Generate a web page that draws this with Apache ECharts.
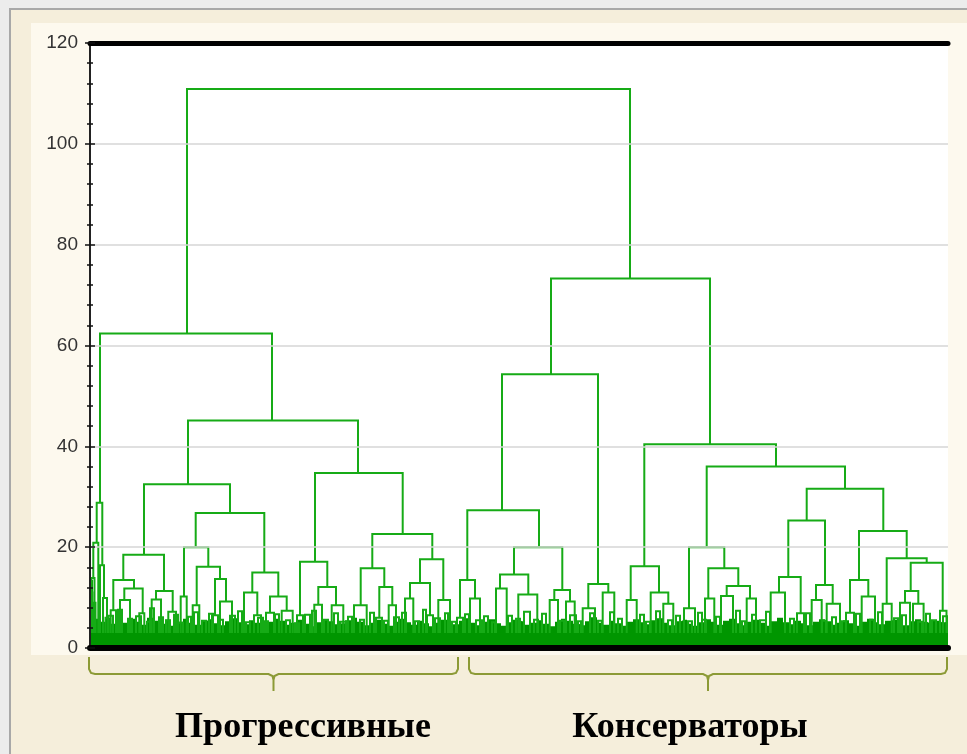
<!DOCTYPE html>
<html>
<head>
<meta charset="utf-8">
<script src="https://cdn.jsdelivr.net/npm/echarts@6/dist/echarts.min.js"></script>
<style>
  html, body { margin:0; padding:0; width:967px; height:754px; overflow:hidden; background:#ececec; }
  #frame { position:absolute; left:9px; top:8px; width:980px; height:760px; background:#f5eedb;
           border-left:2px solid #a8a8a8; border-top:2px solid #a8a8a8; }
  #inner { position:absolute; left:31px; top:23px; width:936px; height:632px; background:#fdf9ee; }
  #chart { position:absolute; left:0; top:0; width:967px; height:754px; }
</style>
</head>
<body>
<div id="frame"></div>
<div id="inner"></div>
<div id="chart"></div>
<script>
// ---- DATA ----
// Y-axis tick labels (linkage distance)
const yTicks = [0, 20, 40, 60, 80, 100, 120];
// Group labels under the dendrogram
const groupNames = ['Прогрессивные', 'Консерваторы'];

// Dendrogram merges: [leftX, rightX, mergeHeight, leftChildHeight, rightChildHeight]
// X = position in leaf order (0..858), heights in distance units. Child height 0 = leaf/fringe.
const mergesTop = [
  [97, 540, 110.9, 62.4, 73.3],
  [10, 182, 62.4, 28.8, 45.1],
  [461, 620, 73.3, 54.3, 40.4]
];
const mergesLeft = [
  [6.7, 12.3, 28.8, 20.9, 16.4],
  [3.3, 8.3, 20.9, 13.9, 0],
  [1.5, 4.5, 13.9, 11, 9],
  [1, 2.5, 11, 0, 0],
  [3.5, 5.5, 9, 0, 0],
  [10, 14, 16.4, 0, 9.9],
  [13, 17, 9.9, 0, 6],
  [15.5, 18.5, 6, 0, 0],
  [98, 268, 45.1, 32.5, 34.7],
  [54, 140, 32.5, 18.5, 26.8],
  [33.3, 74, 18.5, 13.5, 11.3],
  [23.3, 44, 13.5, 7.5, 11.8],
  [20.7, 26, 7.5, 0, 0],
  [34.3, 52.7, 11.8, 9.5, 6.9],
  [30, 40, 9.5, 0, 0],
  [49.3, 54.3, 6.9, 0, 0],
  [66, 82.7, 11.3, 9.6, 7.2],
  [61.7, 71, 9.6, 0, 0],
  [78.3, 86, 7.2, 0, 0],
  [105.7, 174.3, 26.8, 20, 15],
  [94, 118.3, 20, 10.2, 16.1],
  [90.7, 96.7, 10.2, 0, 0],
  [106.7, 130, 16.1, 8.5, 13.7],
  [102.7, 109.3, 8.5, 0, 0],
  [125, 136, 13.7, 6.5, 9.2],
  [122, 128, 6.5, 0, 0],
  [130, 142, 9.2, 0, 0],
  [162.3, 188.3, 15, 11, 10.2],
  [154, 167.3, 11, 0, 6.5],
  [164, 171, 6.5, 0, 0],
  [180, 196.7, 10.2, 7, 7.4],
  [176, 184, 7, 0, 0],
  [191.7, 202.7, 7.4, 0, 0],
  [225, 312.7, 34.7, 17.1, 22.6],
  [210, 237.3, 17.1, 6.5, 12.1],
  [207, 213, 6.5, 0, 0],
  [228.3, 246, 12.1, 8.6, 8.5],
  [224.3, 232, 8.6, 0, 0],
  [241.7, 253.3, 8.5, 0, 0],
  [282.3, 342.3, 22.6, 15.8, 17.6],
  [270.7, 294.3, 15.8, 8.5, 12.1],
  [264, 276.7, 8.5, 0, 0],
  [289.3, 302.3, 12.1, 6, 8.5],
  [286, 292, 6, 0, 0],
  [298.7, 306, 8.5, 0, 0],
  [330, 353.3, 17.6, 12.9, 9.5],
  [320, 340, 12.9, 9.8, 6.5],
  [315, 323.3, 9.8, 0, 0],
  [337, 343, 6.5, 0, 0],
  [348.3, 360, 9.5, 0, 0]
];
const mergesRight = [
  [412, 508, 54.3, 27.3, 12.7],
  [377.3, 449, 27.3, 13.5, 20],
  [370, 385, 13.5, 6, 9.8],
  [367, 373, 6, 0, 0],
  [380, 390, 9.8, 0, 0],
  [424, 472.3, 20, 14.6, 11.5],
  [410, 438.3, 14.6, 11.8, 10.6],
  [406, 416.7, 11.8, 0, 0],
  [428.3, 447.3, 10.6, 0, 0],
  [464.3, 480, 11.5, 9.5, 9.2],
  [459.7, 468, 9.5, 0, 0],
  [476, 484.7, 9.2, 0, 0],
  [498.3, 518.3, 12.7, 7.9, 11],
  [492.7, 505, 7.9, 0, 0],
  [512.7, 524.3, 11, 0, 0],
  [554.3, 686, 40.4, 16.2, 36],
  [540.7, 569, 16.2, 9.5, 11],
  [536.7, 546.7, 9.5, 0, 0],
  [560.7, 578.3, 11, 0, 8.8],
  [573.3, 583.3, 8.8, 0, 0],
  [616.7, 755, 36, 20, 31.6],
  [599, 634.3, 20, 7.9, 15.8],
  [594, 605, 7.9, 0, 0],
  [618.3, 648.3, 15.8, 9.8, 12.3],
  [615, 624.3, 9.8, 0, 0],
  [636.7, 660, 12.3, 10.3, 9.8],
  [631, 643, 10.3, 0, 0],
  [656.7, 666, 9.8, 0, 0],
  [716.7, 793.3, 31.6, 25.3, 23.2],
  [698.3, 735, 25.3, 14.1, 12.5],
  [689, 710.7, 14.1, 11, 6.9],
  [680.7, 695, 11, 0, 0],
  [707, 714, 6.9, 0, 0],
  [726, 742.7, 12.5, 9.5, 8.8],
  [721.7, 731.7, 9.5, 0, 0],
  [736.7, 750, 8.8, 0, 0],
  [769, 816.7, 23.2, 13.5, 17.8],
  [760, 778.3, 13.5, 7, 10.2],
  [756, 764, 7, 0, 0],
  [771.7, 785, 10.2, 0, 0],
  [796.7, 836.7, 17.8, 8.8, 16.9],
  [792.7, 801.7, 8.8, 0, 0],
  [820.7, 852.7, 16.9, 11.3, 7.4],
  [815, 828.3, 11.3, 9, 8.8],
  [810, 820, 9, 0, 0],
  [823, 833.6, 8.8, 0, 0],
  [850, 856.5, 7.4, 0, 0]
];
// Small low-level merges in the dense fringe: [leftX, rightX, height]
const fringeMerges = [
  [18,23,6.4],[28,32,7.6],[38,42,5.8],[46,51,6.3],[57,61,5.2],[60,64,7.9],[69,73,6.1],[76,80,5.5],
  [84,88,6.6],[88,93,5],[98,101,6.2],[104,108,7.1],[112,116,5.4],[119,123,6.8],[128,133,5.6],
  [140,145,6.4],[148,152,7.3],[156,160,5.1],[168,173,6],[174,178,5.3],[185,189,6.7],[196,200,5.5],
  [205,209,4.9],[215,220,6.6],[222,226,7.4],[234,238,5.6],[244,248,6.9],[250,256,5.2],[258,262,6.2],
  [270,274,5.6],[280,284,7],[294,298,5.4],[304,309,6.1],[312,316,7],[325,329,5.3],[333,336,7.6],
  [345,350,5.9],[355,358,6.9],[362,366,5.2],[375,379,6.7],[386,392,5.5],[394,398,6.3],[402,405,5.1],
  [418,422,6.4],[426,430,5.8],[434,440,7.2],[444,448,5.6],[452,456,6.8],[470,474,5.4],[480,486,6.5],
  [488,491,5.3],[500,504,6.9],[508,512,5.4],[520,524,7.1],[528,532,5.8],[550,554,6.6],[556,560,5.2],
  [566,570,7.3],[578,582,5.5],[586,590,6.4],[598,602,5.3],[608,612,7],[612,616,5.6],[626,630,6.2],
  [646,650,7.4],[652,655,5.3],[662,666,6.6],[670,676,5.5],[676,680,7.2],[700,704,5.8],[716,720,6.9],
  [732,736,5.4],[742,746,6.1],[752,756,5.3],[766,770,6.8],[780,784,5.6],[788,792,7.1],[804,808,5.9],
  [812,816,6.5],[828,832,5.2],[836,840,6.8],[842,846,5.5],[853,857,6.3]
];
// Height of the solid mass of leaf-level merges, sampled every 6 leaf positions
const baseStep = 6;
const baseHeights = [
  13.5,5.8,5.2,6,4.8,5.6,5,5.8,5.2,4.6,6,5.4,4.8,5.6,4.4,5.2,5.8,5,4.6,5.4,
  5.7,4.9,4.5,5.3,5.9,5.1,4.7,5.5,5,4.4,5.2,5.8,5.4,4.6,5,5.6,4.8,4.3,5.1,5.7,
  5.3,4.7,4.9,5.5,6,5.2,4.5,5,5.6,4.8,4.4,5.2,5.8,5.1,4.6,5.4,4.9,4.3,5,5.6,
  5.2,4.7,5.4,5.9,5,4.5,5.2,5.7,4.9,4.4,5.1,5.6,5.3,4.6,5,5.5,4.8,4.3,5.2,5.8,
  5.4,4.8,4.5,5.3,6.1,5,4.6,5.4,4.9,4.4,5.2,5.7,5.1,4.7,5.5,5.9,5,4.5,5.3,5.6,
  4.8,4.4,5.1,5.7,5.2,4.6,5.4,5.8,4.9,4.5,5.2,5.6,5,4.4,5.3,6,5.1,4.7,5.4,4.9,
  4.5,5.2,5.7,5.3,4.6,5,5.5,4.9,4.4,5.2,5.8,5.1,4.7,5.4,5.6,5,4.5,5.3,5.7,5.2,
  4.9,5.4,5.1,5.3
];

// ---- CHART ----
const LINE = '#16ab16';
const BASE = '#009600';
const allMerges = mergesTop.concat(mergesLeft, mergesRight,
  fringeMerges.map(f => [f[0], f[1], f[2], 0, 0]));
const leafFloor = 3;

function linkRenderer(color, width) {
  return function (params, api) {
    const xL = api.value(0), xR = api.value(1), h = api.value(2);
    const hL = Math.max(api.value(3), leafFloor), hR = Math.max(api.value(4), leafFloor);
    return {
      type: 'polyline',
      shape: { points: [api.coord([xL, hL]), api.coord([xL, h]), api.coord([xR, h]), api.coord([xR, hR])] },
      style: { stroke: color, lineWidth: width, fill: null }
    };
  };
}

const chart = echarts.init(document.getElementById('chart'), null, { renderer: 'canvas' });
const yMin = yTicks[0], yMax = yTicks[yTicks.length - 1], yInt = yTicks[1] - yTicks[0];

const bracketColor = '#8c9a36';
function bracketPoints(a, b, y0, y1, y2) {
  const m = (a + b) / 2;
  return [[a, y0], [a, y1 - 5], [a + 2, y1 - 1], [a + 6, y1], [m - 5, y1], [m - 1, y1 + 2], [m, y1 + 6], [m, y2],
          [m, y1 + 6], [m + 1, y1 + 2], [m + 5, y1], [b - 6, y1], [b - 2, y1 - 1], [b, y1 - 5], [b, y0]];
}

chart.setOption({
  animation: false,
  grid: { left: 90, right: 19, top: 43, bottom: 106, show: true, backgroundColor: '#ffffff', borderWidth: 0 },
  xAxis: [
    { type: 'value', min: 0, max: 858, position: 'bottom', z: 10,
      axisLine: { show: true, onZero: false, lineStyle: { color: '#000', width: 6 } },
      axisTick: { show: false }, axisLabel: { show: false }, splitLine: { show: false } },
    { type: 'value', min: 0, max: 858, position: 'top', z: 10,
      axisLine: { show: true, onZero: false, lineStyle: { color: '#000', width: 5 } },
      axisTick: { show: false }, axisLabel: { show: false }, splitLine: { show: false } }
  ],
  yAxis: [
    { type: 'value', min: yMin, max: yMax, interval: yInt, position: 'left', z: 10,
      axisLine: { show: true, lineStyle: { color: '#222', width: 2 } },
      axisTick: { show: true, inside: true, length: 5, lineStyle: { color: '#111', width: 1.5 } },
      minorTick: { show: true, splitNumber: 5, length: 3, lineStyle: { color: '#111', width: 1.5 } },
      axisLabel: { color: '#333', fontSize: 19, fontFamily: 'Liberation Sans, Arial, sans-serif', margin: 12 },
      splitLine: { show: true, lineStyle: { color: '#d6d6d6', width: 1.5 } } },
    { type: 'value', min: yMin, max: yMax, interval: yInt, position: 'right', z: 10,
      axisLine: { show: true, lineStyle: { color: '#222', width: 2 } },
      axisTick: { show: true, inside: true, length: 5, lineStyle: { color: '#111', width: 1.5 } },
      minorTick: { show: true, splitNumber: 5, length: 3, lineStyle: { color: '#111', width: 1.5 } },
      axisLabel: { show: false }, splitLine: { show: false } }
  ],
  series: [
    { type: 'custom', z: 2, clip: true, silent: true, renderItem: linkRenderer('#ffffff', 3),
      encode: { x: [0, 1], y: [2, 3, 4] }, data: allMerges },
    { type: 'line', z: 3, step: 'middle', symbol: 'none', silent: true,
      data: baseHeights.map((v, i) => [i * baseStep, v]),
      lineStyle: { width: 0 }, areaStyle: { color: BASE, opacity: 1 } },
    { type: 'custom', z: 4, clip: true, silent: true, renderItem: linkRenderer(LINE, 2),
      encode: { x: [0, 1], y: [2, 3, 4] }, data: allMerges }
  ],
  graphic: [
    { type: 'polyline', shape: { points: bracketPoints(89, 458, 657, 674, 691) },
      style: { stroke: bracketColor, lineWidth: 2, fill: null } },
    { type: 'polyline', shape: { points: bracketPoints(469, 947, 657, 674, 691) },
      style: { stroke: bracketColor, lineWidth: 2, fill: null } },
    { type: 'text', x: 303, y: 746, style: { text: groupNames[0], align: 'center', verticalAlign: 'bottom',
        font: 'bold 36px "Liberation Serif", "Times New Roman", serif', fill: '#000' } },
    { type: 'text', x: 690, y: 746, style: { text: groupNames[1], align: 'center', verticalAlign: 'bottom',
        font: 'bold 36px "Liberation Serif", "Times New Roman", serif', fill: '#000' } }
  ]
});
</script>
</body>
</html>
